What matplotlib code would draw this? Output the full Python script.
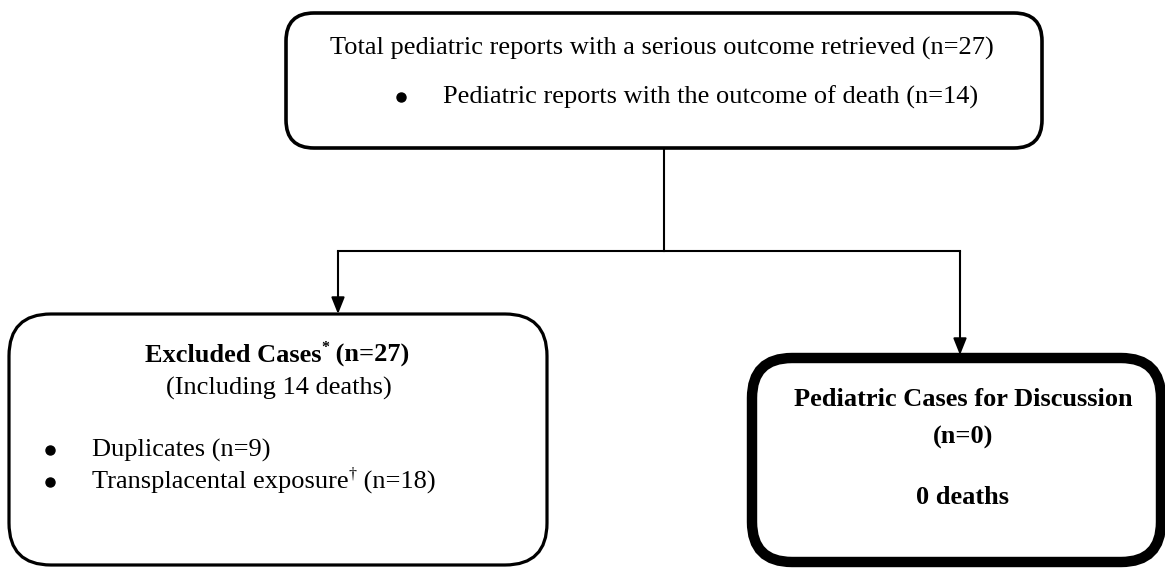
import matplotlib
matplotlib.use("Agg")
import matplotlib.pyplot as plt
from matplotlib.patches import FancyBboxPatch

plt.rcParams['font.family'] = ['Liberation Serif', 'DejaVu Serif']

# counts shown in the flowchart
total_serious = 27
total_deaths = 14
excluded_total = 27
excluded_deaths = 14
duplicates = 9
transplacental = 18
discussion_n = 0
discussion_deaths = 0

FS = 19

fig = plt.figure(figsize=(11.65, 5.71), dpi=100)
ax = fig.add_axes([0, 0, 1, 1])
ax.set_xlim(0, 1165)
ax.set_ylim(571, 0)
ax.axis('off')


def box(x0, y0, x1, y1, r, lw):
    p = FancyBboxPatch((x0, y0), x1 - x0, y1 - y0,
                       boxstyle=f"round,pad=0,rounding_size={r}",
                       fc='white', ec='black', lw=lw, zorder=2)
    ax.add_patch(p)


def arrow(x, y0, y1):
    ax.annotate('', xy=(x, y1), xytext=(x, y0),
                arrowprops=dict(arrowstyle='-|>,head_length=1.0,head_width=0.4',
                                color='black', lw=1.5, shrinkA=0, shrinkB=0), zorder=3)


def bullet(x, y):
    ax.plot([x], [y], marker='o', ms=6.5, color='black', zorder=3)


def pieces(cx, y, parts, anchor='center'):
    # parts: list of (text, fontsize, weight, raise)
    fig.canvas.draw()
    r = fig.canvas.get_renderer()
    objs = []
    widths = []
    for s, fs, w, dy in parts:
        t = ax.text(0, y - dy, s, fontsize=fs, fontweight=w, va='center', ha='left', zorder=3)
        widths.append(t.get_window_extent(r).width)
        objs.append(t)
    total = sum(widths)
    x = cx - total / 2 if anchor == 'center' else cx
    for t, wd in zip(objs, widths):
        t.set_x(x)
        x += wd


# top box
box(286, 13, 1042, 148, 28, 2.6)
ax.text(330, 48, f"Total pediatric reports with a serious outcome retrieved (n={total_serious})",
        fontsize=FS, ha='left', va='center', zorder=3)
bullet(401, 97)
ax.text(443, 97, f"Pediatric reports with the outcome of death (n={total_deaths})",
        fontsize=FS, ha='left', va='center', zorder=3)

# connectors
ax.plot([664, 664], [150, 251], color='black', lw=1.5)
ax.plot([338, 960], [251, 251], color='black', lw=1.5)
arrow(338, 251, 314)
arrow(960, 251, 355)

# left box
box(9, 314, 547, 565, 42, 2.3)
pieces(277, 355, [("Excluded Cases", FS, 'bold', 0), ("*", FS * 0.6, 'bold', 7),
                  (f" (n={excluded_total})", FS, 'bold', 0)])
ax.text(279, 388, f"(Including {excluded_deaths} deaths)", fontsize=FS, ha='center',
        va='center', zorder=3)
bullet(50, 450)
ax.text(92, 450, f"Duplicates (n={duplicates})", fontsize=FS, ha='left', va='center', zorder=3)
bullet(50, 482)
pieces(92, 482, [("Transplacental exposure", FS, 'normal', 0), ("\u2020", FS * 0.6, 'normal', 7),
                 (f" (n={transplacental})", FS, 'normal', 0)], anchor='left')

# right box
box(752, 358, 1161, 562, 40, 7.5)
ax.text(963, 400, "Pediatric Cases for Discussion", fontsize=FS, fontweight='bold',
        ha='center', va='center', zorder=3)
ax.text(963, 437, f"(n={discussion_n})", fontsize=FS, fontweight='bold', ha='center',
        va='center', zorder=3)
ax.text(963, 497, f"{discussion_deaths} deaths", fontsize=FS, fontweight='bold',
        ha='center', va='center', zorder=3)

fig.savefig('out.png', dpi=100)
